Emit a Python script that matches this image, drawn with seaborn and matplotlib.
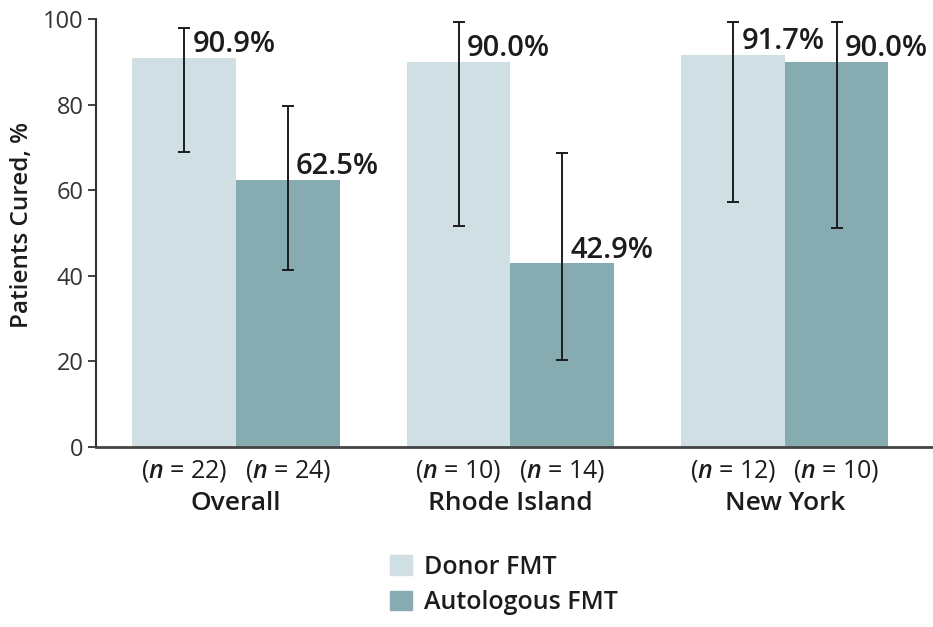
import matplotlib
matplotlib.use("Agg")
import matplotlib.pyplot as plt
import matplotlib.transforms as mtransforms
import seaborn as sns
import pandas as pd

# Cure rates by site and treatment arm
sites = ["Overall", "Rhode Island", "New York"]
arms = ["Donor FMT", "Autologous FMT"]
donor_cured = [90.9, 90.0, 91.7]
auto_cured = [62.5, 42.9, 90.0]
donor_ci_low = [68.9, 51.6, 57.2]
donor_ci_high = [97.8, 99.3, 99.3]
auto_ci_low = [41.4, 20.3, 51.2]
auto_ci_high = [79.7, 68.7, 99.3]
donor_n = [22, 10, 12]
auto_n = [24, 14, 10]

colors = {"Donor FMT": "#D0DFE3", "Autologous FMT": "#86ACB1"}
ink = "#1c1c1c"

sns.set_theme(style="white")
plt.rcParams["font.family"] = ["Open Sans", "DejaVu Sans"]
plt.rcParams["mathtext.fontset"] = "custom"
plt.rcParams["mathtext.it"] = "Open Sans:italic:semibold"
plt.rcParams["mathtext.rm"] = "Open Sans:semibold"

df = pd.DataFrame({
    "site": sites * 2,
    "arm": [arms[0]] * 3 + [arms[1]] * 3,
    "cured": donor_cured + auto_cured,
})

W, H = 933, 627
fig = plt.figure(figsize=(W / 100, H / 100), dpi=100)
ax = fig.add_axes([96 / W, 1 - 447 / H, (W - 96) / W, (447 - 19) / H])

sns.barplot(data=df, x="site", y="cured", hue="arm", order=sites,
            hue_order=arms, palette=colors, width=0.755, saturation=1,
            errorbar=None, ax=ax, legend=False, linewidth=0)

series = [
    (donor_cured, donor_ci_low, donor_ci_high, donor_n),
    (auto_cured, auto_ci_low, auto_ci_high, auto_n),
]
trans_n = mtransforms.blended_transform_factory(ax.transData, ax.transAxes)
for container, (vals, lo, hi, ns) in zip(ax.containers, series):
    for bar, v, l, h, n in zip(container.patches, vals, lo, hi, ns):
        cx = bar.get_x() + bar.get_width() / 2
        ax.errorbar(cx, v, yerr=[[v - l], [h - v]], fmt="none",
                    ecolor=ink, elinewidth=1.4, capsize=4,
                    capthick=1.4, zorder=3)
        ax.annotate(f"{v:.1f}%", xy=(cx, v), xytext=(6, -1),
                    textcoords="offset points", ha="left", va="bottom",
                    fontsize=21, fontweight="semibold", color=ink)
        ax.text(cx, -0.057, rf"($\it{{n}}$ = {n})", transform=trans_n,
                ha="center", va="center", fontsize=18, color=ink)

ax.set_ylim(0, 100)
ax.set_xlim(-0.51, 2.54)
ax.set_yticks([0, 20, 40, 60, 80, 100])
ax.tick_params(axis="y", direction="out", length=6, width=1.3,
               color="#333333", labelsize=17, labelcolor="#333333", pad=3,
               left=True)
ax.tick_params(axis="x", length=0, labelsize=19, pad=32,
               labelcolor=ink)
for lbl in ax.get_xticklabels():
    lbl.set_fontweight("semibold")

ax.set_xlabel("")
ax.set_ylabel("Patients Cured, %", fontsize=17.5, fontweight="semibold",
              color=ink)
ax.yaxis.set_label_coords(-0.074, 0.519)

for side in ["top", "right"]:
    ax.spines[side].set_visible(False)
ax.spines["left"].set_color("#333333")
ax.spines["left"].set_linewidth(1.5)
ax.spines["bottom"].set_color("#444444")
ax.spines["bottom"].set_linewidth(2)

handles = [plt.Rectangle((0, 0), 1, 1, color=colors[a]) for a in arms]
leg = fig.legend(handles, arms, loc="center", bbox_to_anchor=(0.54, 0.067),
                 frameon=False, fontsize=18, handlelength=0.88,
                 handleheight=0.8, handletextpad=0.48, labelspacing=0.42,
                 borderpad=0)
for t in leg.get_texts():
    t.set_fontweight("semibold")
    t.set_color(ink)

fig.savefig("out.png", dpi=100)
